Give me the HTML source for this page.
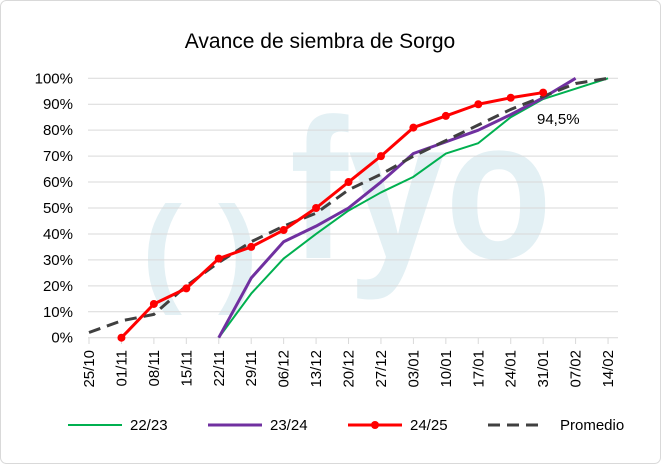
<!DOCTYPE html><html><head><style>body{margin:0;background:#fff}svg{display:block;font-family:"Liberation Sans",sans-serif}</style></head><body>
<svg id="s" width="661" height="464" xmlns="http://www.w3.org/2000/svg">
<rect x="0.5" y="0.5" width="660" height="463" rx="6" fill="#fff" stroke="#d9d9d9"/>
<text x="320" y="48" font-size="21" text-anchor="middle" fill="#000">Avance de siembra de Sorgo</text>
<g fill="#e3f0f4" font-weight="bold">
<text x="142" y="290" font-size="120">(</text>
<text x="218" y="290" font-size="120">)</text>
<text x="290" y="258" font-size="200" textLength="262" lengthAdjust="spacingAndGlyphs">fyo</text>
</g>
<g id="g"></g>
<text x="537" y="124" font-size="15" fill="#000">94,5%</text>
<g stroke-width="2.5" fill="none">
<line x1="68" y1="425" x2="122" y2="425" stroke="#00b050" stroke-width="2"/>
<line x1="208" y1="425" x2="262" y2="425" stroke="#7030a0" stroke-width="3"/>
<line x1="348" y1="425" x2="402" y2="425" stroke="#ff0000" stroke-width="3"/>
<line x1="488" y1="425" x2="542" y2="425" stroke="#404040" stroke-width="3" stroke-dasharray="12,7"/>
</g>
<circle cx="375" cy="425" r="4" fill="#ff0000"/>
<g font-size="15" fill="#000">
<text x="130" y="430">22/23</text><text x="270" y="430">23/24</text><text x="410" y="430">24/25</text><text x="560" y="430">Promedio</text>
</g>
</svg>
<script>
var X=i=>89+32.44*i,Y=p=>337.7-2.594*p,h='';
for(var k=0;k<=10;k++){h+='<line x1="88" x2="618" y1="'+Y(k*10)+'" y2="'+Y(k*10)+'" stroke="#d9d9d9"/>';
h+='<text x="73" y="'+(Y(k*10)+5)+'" font-size="15" text-anchor="end">'+(k*10)+'%</text>';}
var L=["25/10","01/11","08/11","15/11","22/11","29/11","06/12","13/12","20/12","27/12","03/01","10/01","17/01","24/01","31/01","07/02","14/02"];
L.forEach((l,i)=>{var x=X(i);h+='<line x1="'+x+'" x2="'+x+'" y1="338" y2="344" stroke="#d9d9d9"/>';
h+='<text transform="translate('+(x+5)+',350) rotate(-90)" font-size="15" text-anchor="end">'+l+'</text>';});
function pl(a,s,c,w,d){var p=a.map(q=>X(q[0])+','+Y(q[1])).join(' ');return '<polyline points="'+p+'" fill="none" stroke="'+c+'" stroke-width="'+w+'" stroke-linejoin="round"'+(d?' stroke-dasharray="'+d+'"':'')+'/>';}
var g=[[4,0],[5,17],[6,30.5],[7,40],[8,49],[9,56],[10,62],[11,71],[12,75],[13,85],[14,92],[15,96],[16,100]];
var p=[[4,0],[5,23],[6,37],[7,43],[8,50],[9,60],[10,71],[11,75.5],[12,80],[13,86],[14,92.5],[15,100]];
var m=[[0,2],[1,6.5],[2,9],[3,20],[4,29],[5,37],[6,43],[7,48],[8,57],[9,63],[10,70],[11,76],[12,82],[13,88],[14,93],[15,98],[16,100]];
var r=[[1,0],[2,13],[3,19],[4,30.5],[5,35],[6,41.5],[7,50],[8,60],[9,70],[10,81],[11,85.5],[12,90],[13,92.5],[14,94.5]];
h+=pl(g,0,'#00b050',2)+pl(p,0,'#7030a0',3)+pl(m,0,'#404040',3,'12,7')+pl(r,0,'#ff0000',3);
r.forEach(q=>h+='<circle cx="'+X(q[0])+'" cy="'+Y(q[1])+'" r="4" fill="#ff0000"/>');
document.getElementById('g').innerHTML=h;
</script></body></html>
